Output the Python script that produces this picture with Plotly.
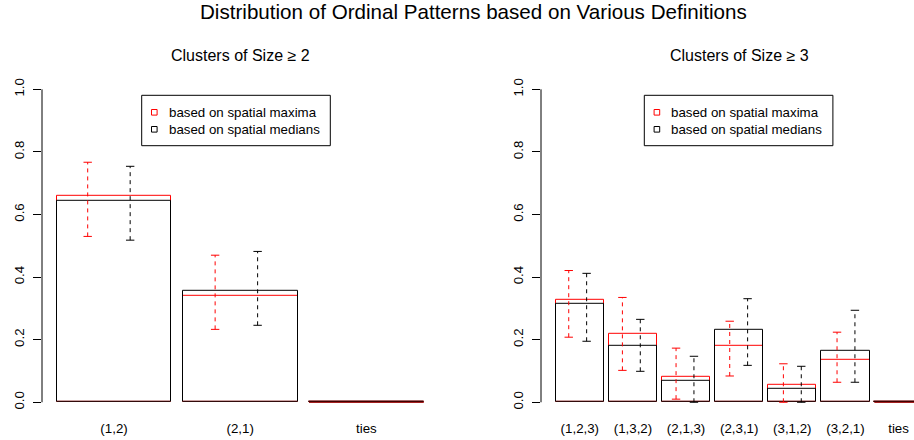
import plotly.graph_objects as go

# ---------------- data ----------------
cats2 = ["(1,2)", "(2,1)", "ties"]
maxima2 = [0.660, 0.339, 0.0]
medians2 = [0.644, 0.356, 0.0]
maxima2_lo = [0.530, 0.233, None]
maxima2_hi = [0.767, 0.470, None]
medians2_lo = [0.518, 0.246, None]
medians2_hi = [0.754, 0.482, None]

cats3 = ["(1,2,3)", "(1,3,2)", "(2,1,3)", "(2,3,1)", "(3,1,2)", "(3,2,1)", "ties"]
maxima3 = [0.328, 0.219, 0.083, 0.179, 0.055, 0.137, 0.0]
medians3 = [0.315, 0.179, 0.069, 0.233, 0.042, 0.164, 0.0]
maxima3_lo = [0.208, 0.102, 0.010, 0.084, 0.000, 0.064, None]
maxima3_hi = [0.421, 0.335, 0.173, 0.259, 0.123, 0.224, None]
medians3_lo = [0.195, 0.099, 0.000, 0.118, 0.000, 0.064, None]
medians3_hi = [0.412, 0.265, 0.147, 0.331, 0.115, 0.294, None]

y_ticks = [0.0, 0.2, 0.4, 0.6, 0.8, 1.0]
main_title = "Distribution of Ordinal Patterns based on Various Definitions"
panel_titles = ["Clusters of Size \u2265 2", "Clusters of Size \u2265 3"]
legend_labels = ["based on spatial maxima", "based on spatial medians"]

# ---------------- styling / geometry ----------------
W, H = 914, 440
RED, BLACK = "#FF0000", "#000000"
FONT = "Liberation Sans, Arial, Helvetica, sans-serif"
SPACE = 0.1

def px_x(p):
    return p / W

def px_y(p):
    return 1 - p / H

def centers(n):
    return [SPACE + 0.5 + i * (1 + SPACE) for i in range(n)]

def xlim(n):
    lo, hi = SPACE, n * (1 + SPACE)
    pad = 0.04 * (hi - lo)
    return lo - pad, hi + pad

# plot regions in pixels (R-like)
Y_TOP_PX, Y_BOT_PX = 76.8, 414.8
regions = [(42.0, 438.4), (541.0, 937.4)]

fig = go.Figure()

panels = [
    (cats2, maxima2, medians2, maxima2_lo, maxima2_hi, medians2_lo, medians2_hi),
    (cats3, maxima3, medians3, maxima3_lo, maxima3_hi, medians3_lo, medians3_hi),
]

for k, (cats, mx, md, mx_lo, mx_hi, md_lo, md_hi) in enumerate(panels):
    xa = "x" if k == 0 else "x2"
    ya = "y" if k == 0 else "y2"
    n = len(cats)
    c = centers(n)
    # bars (red first, black on top)
    for vals, col in ((mx, RED), (md, BLACK)):
        fig.add_trace(go.Bar(
            x=c, y=vals, width=1.0, xaxis=xa, yaxis=ya, showlegend=False,
            marker=dict(color="rgba(0,0,0,0)", line=dict(color=col, width=1)),
            hoverinfo="skip"))
    # zero-height bars are drawn as a flat line, as R does
    for vals, col in ((mx, RED), (md, "rgba(60,0,0,0.6)")):
        zx, zy = [], []
        for ci, v in zip(c, vals):
            if v == 0:
                zx += [ci - 0.5, ci + 0.5, None]
                zy += [0, 0, None]
        if zx:
            fig.add_trace(go.Scatter(x=zx, y=zy, mode="lines", xaxis=xa, yaxis=ya,
                                     line=dict(color=col, width=1), showlegend=False,
                                     hoverinfo="skip"))
    # error bars
    for lo, hi, col, off in ((mx_lo, mx_hi, RED, 1 / 3), (md_lo, md_hi, BLACK, 2 / 3)):
        ex, ey, cx, cy = [], [], [], []
        for i in range(n):
            if lo[i] is None or hi[i] is None:
                continue
            xp = (i + off) / 0.9
            ex += [xp, xp, None]
            ey += [lo[i], hi[i], None]
            cx += [xp, xp]
            cy += [lo[i], hi[i]]
        fig.add_trace(go.Scatter(x=ex, y=ey, mode="lines", xaxis=xa, yaxis=ya,
                                 line=dict(color=col, width=1, dash="4px,4px"),
                                 showlegend=False, hoverinfo="skip"))
        fig.add_trace(go.Scatter(x=cx, y=cy, mode="markers", xaxis=xa, yaxis=ya,
                                 marker=dict(symbol="line-ew", size=6,
                                             line=dict(color=col, width=1)),
                                 showlegend=False, hoverinfo="skip"))

    # axes
    lo_u, hi_u = xlim(n)
    x0p, x1p = regions[k]
    if x1p > W:
        frac = (W - x0p) / (x1p - x0p)
        hi_u = lo_u + (hi_u - lo_u) * frac
        x1p = W
    xaxis = dict(domain=[px_x(x0p), px_x(x1p)], range=[lo_u, hi_u],
                 tickvals=c, ticktext=cats, ticks="", showline=False,
                 showgrid=False, zeroline=False, anchor=ya, automargin=False,
                 ticklabelstandoff=4,
                 tickfont=dict(family=FONT, size=13.3, color="black"))
    yaxis = dict(domain=[px_y(Y_BOT_PX), px_y(Y_TOP_PX)], range=[-0.04, 1.04],
                 tickvals=y_ticks, ticktext=["%.1f" % t for t in y_ticks],
                 ticks="outside", ticklen=8, tickwidth=1, tickcolor="black",
                 tickangle=-90, showline=False, showgrid=False, zeroline=False,
                 anchor=xa, automargin=False, ticklabelstandoff=4,
                 tickfont=dict(family=FONT, size=13.3, color="black"))
    if k == 0:
        fig.update_layout(xaxis=xaxis, yaxis=yaxis)
    else:
        fig.update_layout(xaxis2=xaxis, yaxis2=yaxis)

    # y axis line (from first to last tick, like R)
    fig.add_shape(type="line", xref=xa + " domain", yref=ya, x0=0, x1=0,
                  y0=y_ticks[0], y1=y_ticks[-1], line=dict(color="black", width=1))

    # panel title
    fig.add_annotation(text=panel_titles[k], xref="paper", yref="paper",
                       x=px_x((regions[k][0] + regions[k][1]) / 2), y=px_y(55),
                       xanchor="center", yanchor="middle", showarrow=False,
                       font=dict(family=FONT, size=16, color="black"))

    # legend box (manual, R style)
    bx0 = 141.7 if k == 0 else 644.3
    bx1 = bx0 + 188.6
    fig.add_shape(type="rect", xref="paper", yref="paper",
                  x0=px_x(bx0), x1=px_x(bx1), y0=px_y(145.7), y1=px_y(95.3),
                  line=dict(color="black", width=1), fillcolor="white")
    for j, (lab, col) in enumerate(zip(legend_labels, (RED, BLACK))):
        yc = 112.3 + 17 * j
        sx = bx0 + 12.6
        fig.add_shape(type="rect", xref="paper", yref="paper",
                      x0=px_x(sx - 2.8), x1=px_x(sx + 2.8),
                      y0=px_y(yc + 2.8), y1=px_y(yc - 2.8),
                      line=dict(color=col, width=1))
        fig.add_annotation(text=lab, xref="paper", yref="paper",
                           x=px_x(bx0 + 25), y=px_y(yc), xanchor="left",
                           yanchor="middle", showarrow=False,
                           font=dict(family=FONT, size=13.3, color="black"))

fig.add_annotation(text=main_title, xref="paper", yref="paper",
                   x=px_x(473.6), y=px_y(11), xanchor="center", yanchor="middle",
                   showarrow=False, font=dict(family=FONT, size=20.6, color="black"))

fig.update_layout(width=W, height=H, autosize=False,
                  margin=dict(l=0, r=0, t=0, b=0, pad=0),
                  plot_bgcolor="white", paper_bgcolor="white",
                  barmode="overlay", bargap=0, showlegend=False)

fig.write_html("out.html")
